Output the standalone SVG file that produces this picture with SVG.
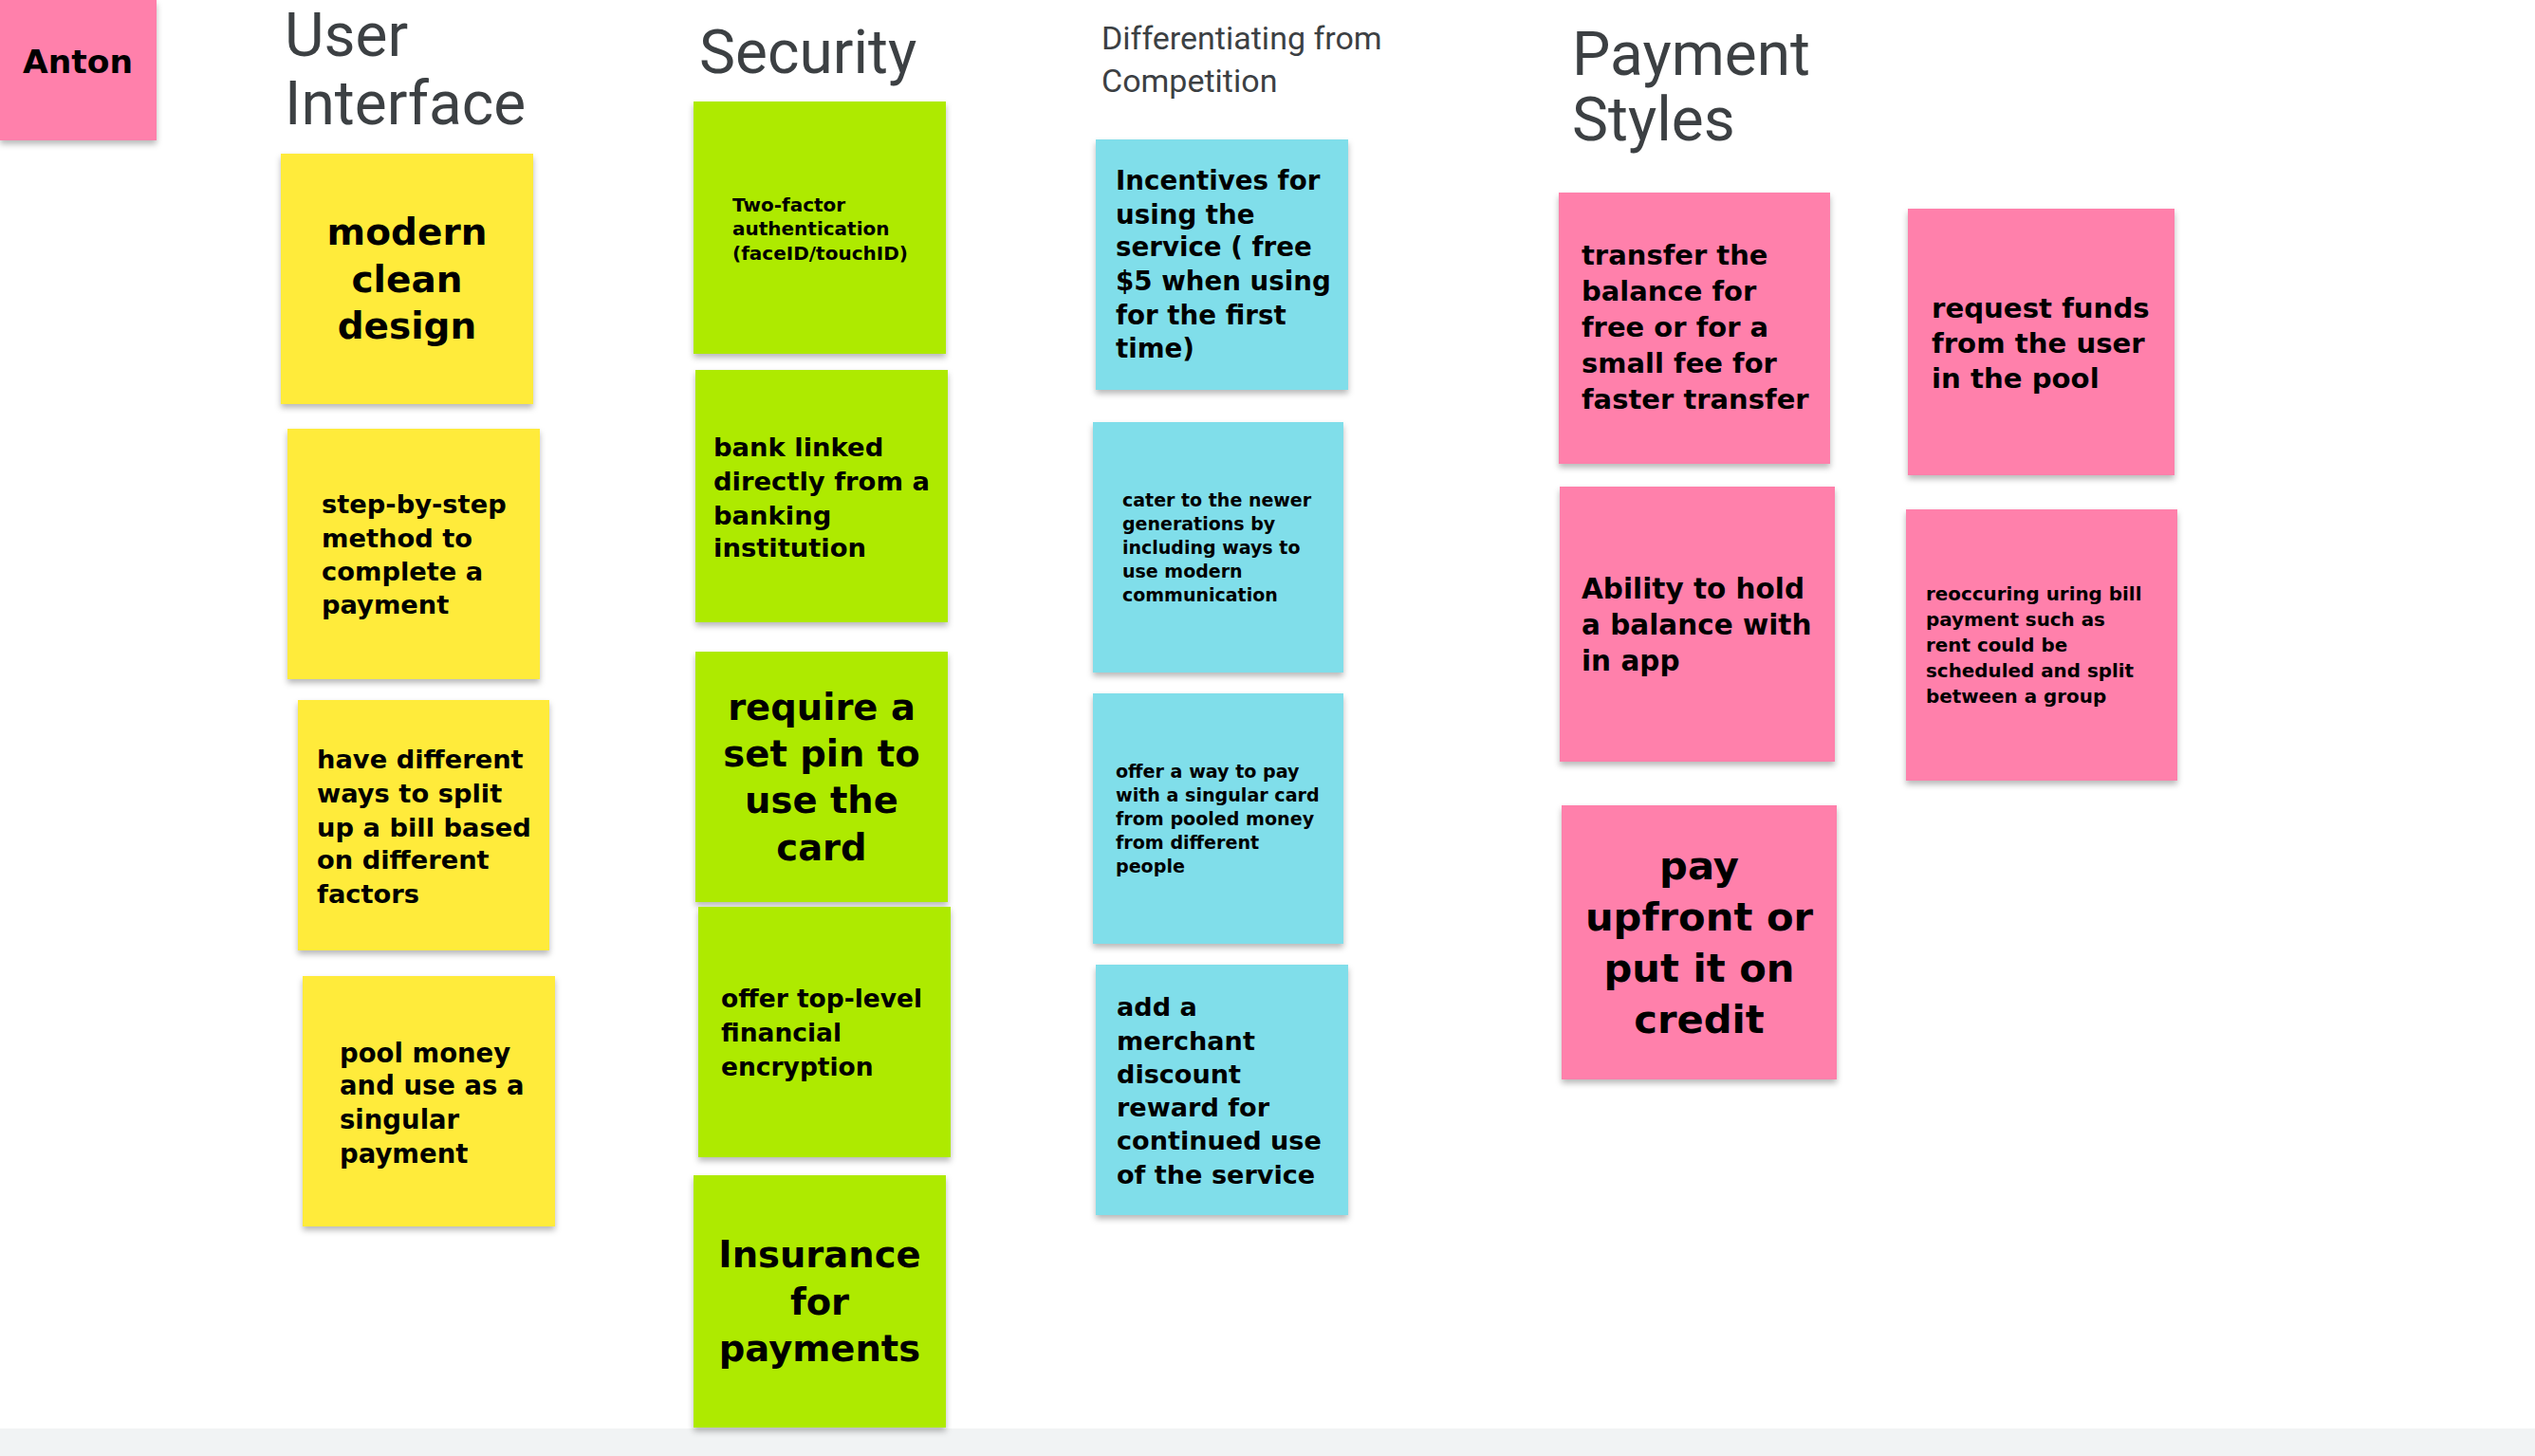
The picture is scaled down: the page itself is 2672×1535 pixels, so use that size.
<svg xmlns="http://www.w3.org/2000/svg" width="2672" height="1535" viewBox="0 0 2672 1535">
<defs>
<filter id="sh" x="-10%" y="-10%" width="120%" height="125%">
<feDropShadow dx="0" dy="4" stdDeviation="3" flood-color="#000" flood-opacity="0.28"/>
</filter>
<style>
.yel{fill:#ffeb3b;filter:url(#sh)}
.grn{fill:#aeea00;filter:url(#sh)}
.cyn{fill:#80deea;filter:url(#sh)}
.pnk{fill:#ff80ab;filter:url(#sh)}
.t{font-family:"DejaVu Sans","Open Sans",sans-serif;font-weight:700;fill:#000}
.c{text-anchor:middle}
.h{font-family:Roboto,"Liberation Sans",sans-serif;font-weight:400;fill:#3c4043}
</style>
</defs>
<rect width="2672" height="1535" fill="#ffffff"/>
<rect x="0" y="1506" width="2672" height="29" fill="#f1f3f4"/>

<g id="headers">
<text class="h" font-size="64"><tspan x="300" y="59">User</tspan><tspan x="300" y="131">Interface</tspan></text>
<text class="h" font-size="64" x="737" y="77">Security</text>
<text class="h" font-size="34"><tspan x="1161" y="52">Differentiating from</tspan><tspan x="1161" y="97">Competition</tspan></text>
<text class="h" font-size="64"><tspan x="1657" y="79">Payment</tspan><tspan x="1657" y="148">Styles</tspan></text>
</g>

<g id="anton">
<rect class="pnk" x="0" y="0" width="165" height="148"/>
<text class="t c" font-size="34.5" x="82" y="77">Anton</text>
</g>

<g id="ui-modern">
<rect class="yel" x="296" y="162" width="266" height="264"/>
<text class="t c" font-size="39"><tspan x="429" y="258">modern</tspan><tspan x="429" y="308">clean</tspan><tspan x="429" y="357">design</tspan></text>
</g>
<g id="ui-step">
<rect class="yel" x="303" y="452" width="266" height="264"/>
<text class="t" font-size="27.3"><tspan x="339" y="541">step-by-step</tspan><tspan x="339" y="577">method to</tspan><tspan x="339" y="612">complete a</tspan><tspan x="339" y="647">payment</tspan></text>
</g>
<g id="ui-split">
<rect class="yel" x="314" y="738" width="265" height="264"/>
<text class="t" font-size="27.3"><tspan x="334" y="810">have different</tspan><tspan x="334" y="846">ways to split</tspan><tspan x="334" y="882">up a bill based</tspan><tspan x="334" y="916">on different</tspan><tspan x="334" y="952">factors</tspan></text>
</g>
<g id="ui-pool">
<rect class="yel" x="319" y="1029" width="266" height="264"/>
<text class="t" font-size="27.5"><tspan x="358" y="1120">pool money</tspan><tspan x="358" y="1154">and use as a</tspan><tspan x="358" y="1190">singular</tspan><tspan x="358" y="1226">payment</tspan></text>
</g>

<g id="sec-2fa">
<rect class="grn" x="731" y="107" width="266" height="266"/>
<text class="t" font-size="20"><tspan x="772" y="223">Two-factor</tspan><tspan x="772" y="248">authentication</tspan><tspan x="772" y="274">(faceID/touchID)</tspan></text>
</g>
<g id="sec-bank">
<rect class="grn" x="733" y="390" width="266" height="266"/>
<text class="t" font-size="27.4"><tspan x="752" y="481">bank linked</tspan><tspan x="752" y="517">directly from a</tspan><tspan x="752" y="553">banking</tspan><tspan x="752" y="587">institution</tspan></text>
</g>
<g id="sec-pin">
<rect class="grn" x="733" y="687" width="266" height="264"/>
<text class="t c" font-size="38.5"><tspan x="866" y="759">require a</tspan><tspan x="866" y="808">set pin to</tspan><tspan x="866" y="857">use the</tspan><tspan x="866" y="907">card</tspan></text>
</g>
<g id="sec-enc">
<rect class="grn" x="736" y="956" width="266" height="264"/>
<text class="t" font-size="26.5"><tspan x="760" y="1062">offer top-level</tspan><tspan x="760" y="1098">financial</tspan><tspan x="760" y="1134">encryption</tspan></text>
</g>
<g id="sec-ins">
<rect class="grn" x="731" y="1239" width="266" height="266"/>
<text class="t c" font-size="38.5"><tspan x="864" y="1336">Insurance</tspan><tspan x="864" y="1386">for</tspan><tspan x="864" y="1435">payments</tspan></text>
</g>

<g id="dif-incent">
<rect class="cyn" x="1155" y="147" width="266" height="264"/>
<text class="t" font-size="27.7"><tspan x="1176" y="200">Incentives for</tspan><tspan x="1176" y="236">using the</tspan><tspan x="1176" y="270">service ( free</tspan><tspan x="1176" y="306">$5 when using</tspan><tspan x="1176" y="342">for the first</tspan><tspan x="1176" y="377">time)</tspan></text>
</g>
<g id="dif-cater">
<rect class="cyn" x="1152" y="445" width="264" height="264"/>
<text class="t" font-size="19"><tspan x="1183" y="534">cater to the newer</tspan><tspan x="1183" y="559">generations by</tspan><tspan x="1183" y="584">including ways to</tspan><tspan x="1183" y="609">use modern</tspan><tspan x="1183" y="634">communication</tspan></text>
</g>
<g id="dif-card">
<rect class="cyn" x="1152" y="731" width="264" height="264"/>
<text class="t" font-size="19.1"><tspan x="1176" y="820">offer a way to pay</tspan><tspan x="1176" y="845">with a singular card</tspan><tspan x="1176" y="870">from pooled money</tspan><tspan x="1176" y="895">from different</tspan><tspan x="1176" y="920">people</tspan></text>
</g>
<g id="dif-merchant">
<rect class="cyn" x="1155" y="1017" width="266" height="264"/>
<text class="t" font-size="27.1"><tspan x="1177" y="1071">add a</tspan><tspan x="1177" y="1107">merchant</tspan><tspan x="1177" y="1142">discount</tspan><tspan x="1177" y="1177">reward for</tspan><tspan x="1177" y="1212">continued use</tspan><tspan x="1177" y="1248">of the service</tspan></text>
</g>

<g id="pay-transfer">
<rect class="pnk" x="1643" y="203" width="286" height="286"/>
<text class="t" font-size="29"><tspan x="1667" y="279">transfer the</tspan><tspan x="1667" y="317">balance for</tspan><tspan x="1667" y="355">free or for a</tspan><tspan x="1667" y="393">small fee for</tspan><tspan x="1667" y="431">faster transfer</tspan></text>
</g>
<g id="pay-hold">
<rect class="pnk" x="1644" y="513" width="290" height="290"/>
<text class="t" font-size="29.5"><tspan x="1667" y="631">Ability to hold</tspan><tspan x="1667" y="669">a balance with</tspan><tspan x="1667" y="707">in app</tspan></text>
</g>
<g id="pay-credit">
<rect class="pnk" x="1646" y="849" width="290" height="289"/>
<text class="t c" font-size="41.7"><tspan x="1791" y="927">pay</tspan><tspan x="1791" y="981">upfront or</tspan><tspan x="1791" y="1035">put it on</tspan><tspan x="1791" y="1089">credit</tspan></text>
</g>
<g id="pay-request">
<rect class="pnk" x="2011" y="220" width="281" height="281"/>
<text class="t" font-size="29.2"><tspan x="2036" y="335">request funds</tspan><tspan x="2036" y="372">from the user</tspan><tspan x="2036" y="409">in the pool</tspan></text>
</g>
<g id="pay-recur">
<rect class="pnk" x="2009" y="537" width="286" height="286"/>
<text class="t" font-size="19.9"><tspan x="2030" y="633">reoccuring uring bill</tspan><tspan x="2030" y="660">payment such as</tspan><tspan x="2030" y="687">rent could be</tspan><tspan x="2030" y="714">scheduled and split</tspan><tspan x="2030" y="741">between a group</tspan></text>
</g>

<g id="connectors"></g>
</svg>
